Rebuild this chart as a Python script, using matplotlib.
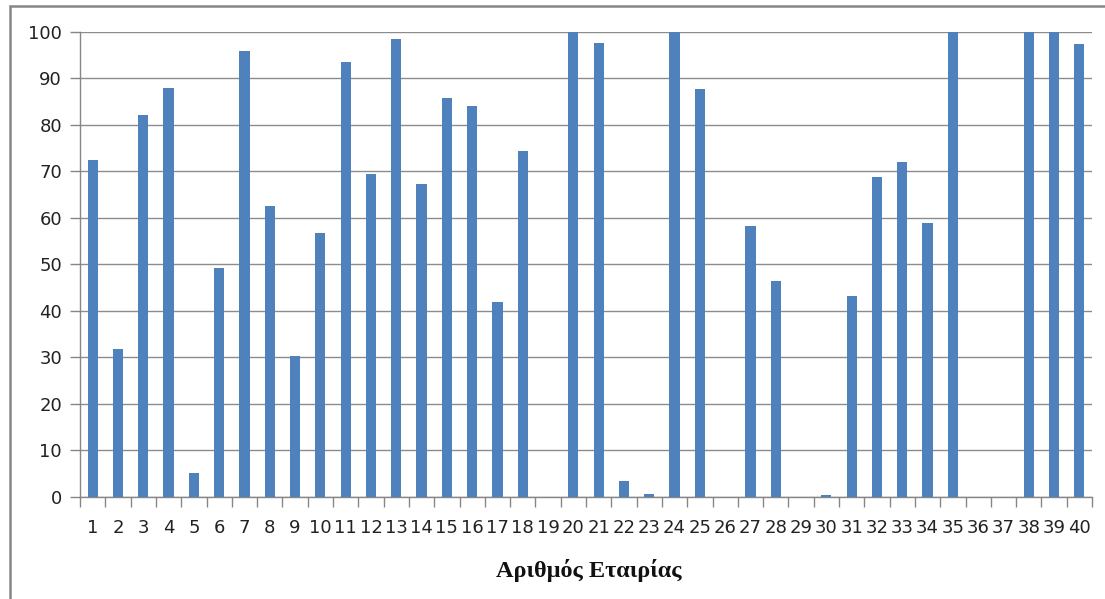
import matplotlib
matplotlib.use("Agg")
import matplotlib.pyplot as plt
from matplotlib.patches import Rectangle

companies = [str(i) for i in range(1, 41)]
values = [72.5, 31.7, 82.1, 88.0, 5.1, 49.3, 96.0, 62.5, 30.3, 56.8,
          93.6, 69.5, 98.4, 67.2, 85.9, 84.0, 42.0, 74.3, 0.0, 100.0,
          97.7, 3.4, 0.5, 100.0, 87.8, 0.0, 58.2, 46.4, 0.0, 0.3,
          43.1, 68.7, 72.0, 59.0, 100.0, 0.0, 0.0, 100.0, 100.0, 97.5]
yticks = [0, 10, 20, 30, 40, 50, 60, 70, 80, 90, 100]
xlabel = "Αριθμός Εταιρίας"

W, H = 1105, 599
fig = plt.figure(figsize=(W / 100, H / 100), dpi=100)
fig.patch.set_facecolor("white")

# outer chart frame
fig.patches.append(Rectangle((10 / W, -0.1), 1.2, 1 - 6 / H + 0.1,
                             transform=fig.transFigure, fill=False,
                             edgecolor="#868686", linewidth=1.8, zorder=0))

ax = fig.add_axes([80 / W, 1 - 496.7 / H, (1092 - 80) / W, (496.7 - 32) / H])
x = list(range(len(companies)))
ax.bar(x, values, width=0.4, color="#4F81BD", edgecolor="none", zorder=3)

ax.set_xlim(-0.5, len(companies) - 0.5)
ax.set_ylim(0, 100)
ax.set_yticks(yticks)
ax.set_yticklabels([str(v) for v in yticks], fontsize=13, color="#222222")
ax.set_xticks(x)
ax.set_xticklabels(companies, fontsize=13, color="#222222")
ax.set_xticks([i - 0.5 for i in range(len(companies) + 1)], minor=True)
ax.tick_params(axis="x", which="major", length=0, pad=16)
ax.tick_params(axis="x", which="minor", length=7, color="#868686", width=1)
ax.tick_params(axis="y", which="major", length=7, color="#868686", width=1, pad=6)

ax.grid(axis="y", color="#8c8c8c", linewidth=1.0, zorder=0)
ax.set_axisbelow(True)
for s in ["top", "right"]:
    ax.spines[s].set_visible(False)
for s in ["left", "bottom"]:
    ax.spines[s].set_color("#868686")
    ax.spines[s].set_linewidth(1.0)

fig.text(589 / W, 1 - 571 / H, xlabel, ha="center", va="center",
         fontsize=17.5, fontweight="bold", family=["Liberation Serif", "DejaVu Serif"],
         color="#111111")

fig.savefig("out.png", dpi=100, facecolor="white")
